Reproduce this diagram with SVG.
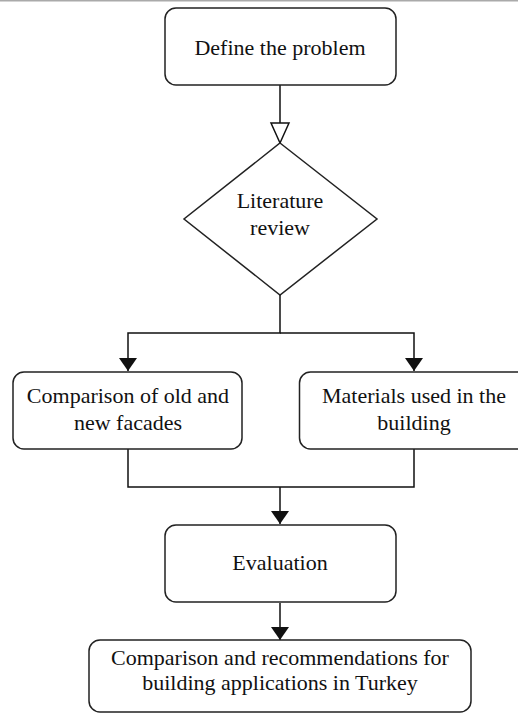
<svg xmlns="http://www.w3.org/2000/svg" width="518" height="715" viewBox="0 0 518 715">
<style>
.box{fill:#fff;stroke:#222;stroke-width:1.5}
.t{font-family:"Liberation Serif","Times New Roman",serif;font-size:22px;fill:#111;text-anchor:middle}
.c{fill:none;stroke:#111;stroke-width:1.5}
</style>
<defs>
<marker id="fa" markerUnits="userSpaceOnUse" viewBox="0 0 13 18" markerWidth="13" markerHeight="18" refX="13" refY="9" orient="auto" overflow="visible">
<path d="M0,0 L13,9 L0,18 Z" fill="#111"/>
</marker>
<marker id="oa" markerUnits="userSpaceOnUse" viewBox="0 0 20 18" markerWidth="20" markerHeight="18" refX="20" refY="9" orient="auto" overflow="visible">
<path d="M0,0 L20,9 L0,18 Z" fill="#fff" stroke="#111" stroke-width="1.5"/>
</marker>
</defs>
<rect x="0" y="0" width="518" height="1.5" fill="#aaa"/>
<g id="connectors">
<path class="c" d="M280,85 V143" marker-end="url(#oa)"/>
<path class="c" d="M280,295 V333 H128 V371" marker-end="url(#fa)"/>
<path class="c" d="M280,333 H414 V371" marker-end="url(#fa)"/>
<path class="c" d="M128,449 V487 H414 V449"/>
<path class="c" d="M280,487 V524" marker-end="url(#fa)"/>
<path class="c" d="M280,603 V640" marker-end="url(#fa)"/>
</g>
<g id="define">
<rect class="box" x="165" y="8" width="231" height="77" rx="11"/>
<text class="t" x="280" y="55">Define the problem</text>
</g>
<g id="literature">
<polygon class="box" points="280,143 377,219 280,295 184,219"/>
<text class="t" x="280" y="208">Literature</text>
<text class="t" x="280" y="235">review</text>
</g>
<g id="comparison">
<rect class="box" x="13" y="372" width="229" height="77" rx="11"/>
<text class="t" x="128" y="403">Comparison of old and</text>
<text class="t" x="128" y="430">new facades</text>
</g>
<g id="materials">
<rect class="box" x="299.5" y="372" width="229" height="77" rx="11"/>
<text class="t" x="414" y="403">Materials used in the</text>
<text class="t" x="414" y="430">building</text>
</g>
<g id="evaluation">
<rect class="box" x="165" y="525" width="231" height="77" rx="11"/>
<text class="t" x="280" y="570">Evaluation</text>
</g>
<g id="recommendations">
<rect class="box" x="89" y="640" width="382" height="72" rx="11"/>
<text class="t" x="280" y="665">Comparison and recommendations for</text>
<text class="t" x="280" y="690">building applications in Turkey</text>
</g>
</svg>
